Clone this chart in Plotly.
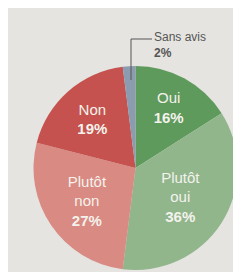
import plotly.graph_objects as go

labels = ["Oui", "Plutôt oui", "Plutôt non", "Non", "Sans avis"]
values = [16, 36, 27, 19, 2]
display = ["Oui", "Plutôt<br>oui", "Plutôt<br>non", "Non", ""]
colors = ["#5e9a5c", "#91b68c", "#d98a82", "#c5524e", "#8c9cb0"]

texts = [f"{d}<br><b>{v}%</b>" if d else "" for d, v in zip(display, values)]

fig = go.Figure(go.Pie(
    labels=labels, values=values, text=texts,
    texttemplate="%{text}", textinfo="text",
    textposition="inside", insidetextorientation="horizontal",
    sort=False, direction="clockwise", rotation=0,
    marker=dict(colors=colors, line=dict(width=0)),
    textfont=dict(family="Liberation Sans", size=15, color="#f4f2ec"),
    domain=dict(x=[25/241, 230/241], y=[1-262/272, 1-58/272]),
    showlegend=False, hoverinfo="skip",
))

# leader line for "Sans avis"
fig.add_shape(type="line", xref="paper", yref="paper",
              x0=123/241, y0=1-72/272, x1=123/241, y1=1-31/272,
              line=dict(color="#555", width=1))
fig.add_shape(type="line", xref="paper", yref="paper",
              x0=123/241, y0=1-31/272, x1=144/241, y1=1-31/272,
              line=dict(color="#555", width=1))
fig.add_annotation(xref="paper", yref="paper", x=144/241, y=1-31/272,
                   text="Sans avis<br><b>2%</b>", showarrow=False,
                   xanchor="left", yanchor="middle", align="left",
                   yshift=-6,
                   font=dict(family="Liberation Sans", size=12, color="#555"))

fig.update_layout(width=241, height=272, margin=dict(l=0, r=0, t=0, b=0),
                  paper_bgcolor="#e5e4e0", plot_bgcolor="#e5e4e0")
fig.write_html("out.html")
